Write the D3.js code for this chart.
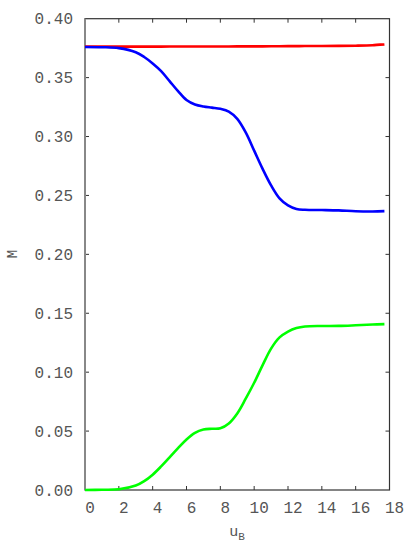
<!DOCTYPE html>
<html><head><meta charset="utf-8">
<script src="https://cdn.jsdelivr.net/npm/d3@7"></script>
<style>body{margin:0;background:#fff}svg{display:block}</style>
</head><body>
<svg id="c" width="416" height="553"></svg>
<script>
const uB    = [0, 1, 2, 3, 3.5, 4, 4.5, 5, 5.5, 6, 6.5, 7, 7.5, 8, 8.5, 9, 9.5, 10, 10.5, 11, 11.5, 12, 12.5, 13, 14, 15, 16, 17, 17.7];
const red   = [0.3763,0.3763,0.3763,0.3763,0.3763,0.3763,0.3763,0.3764,0.3764,0.3764,0.3764,0.3764,0.3764,0.3764,0.3764,0.3765,0.3765,0.3765,0.3765,0.3766,0.3766,0.3767,0.3767,0.3768,0.3768,0.3769,0.3771,0.3775,0.3782];
const blue  = [0.3760,0.3758,0.3750,0.3715,0.3675,0.3620,0.3555,0.3470,0.3385,0.3310,0.3272,0.3255,0.3245,0.3235,0.3212,0.3150,0.3035,0.2880,0.2725,0.2585,0.2475,0.2415,0.2385,0.2378,0.2376,0.2373,0.2366,0.2364,0.2367];
const green = [0.0000,0.0002,0.0006,0.0038,0.0075,0.0130,0.0200,0.0277,0.0355,0.0429,0.0485,0.0513,0.0520,0.0524,0.0565,0.0650,0.0775,0.0910,0.1060,0.1200,0.1295,0.1345,0.1375,0.1388,0.1392,0.1393,0.1398,0.1404,0.1408];
const xTicks = [0,2,4,6,8,10,12,14,16,18];
const yTicks = [0,0.05,0.10,0.15,0.20,0.25,0.30,0.35,0.40];
const seriesColors = ["#ff0000","#0000ff","#00ff00"];

const svg = d3.select("#c");
const L=85, R=389.5, T=18.7, B=490;
const x = d3.scaleLinear().domain([0,18]).range([L,R]);
const y = d3.scaleLinear().domain([0,0.40]).range([B,T]);
const font = "'Liberation Mono', 'DejaVu Sans Mono', monospace";

svg.append("rect").attr("x",L).attr("y",T).attr("width",R-L).attr("height",B-T)
  .attr("fill","none").attr("stroke","#333").attr("stroke-width",1.2);

const tl=4;
xTicks.slice(1,-1).forEach(t=>{
  svg.append("line").attr("x1",x(t)).attr("x2",x(t)).attr("y1",B).attr("y2",B-tl).attr("stroke","#333");
  svg.append("line").attr("x1",x(t)).attr("x2",x(t)).attr("y1",T).attr("y2",T+tl).attr("stroke","#333");
});
yTicks.slice(1,-1).forEach(t=>{
  svg.append("line").attr("x1",L).attr("x2",L+tl).attr("y1",y(t)).attr("y2",y(t)).attr("stroke","#333");
  svg.append("line").attr("x1",R).attr("x2",R-tl).attr("y1",y(t)).attr("y2",y(t)).attr("stroke","#333");
});

svg.selectAll(".xl").data(xTicks).enter().append("text")
  .attr("x",d=>x(d)+5).attr("y",513).attr("text-anchor","middle")
  .attr("font-family",font).attr("font-size",16).attr("fill","#555").text(d=>d);
svg.selectAll(".yl").data(yTicks).enter().append("text")
  .attr("x",73).attr("y",d=>y(d)+5.5).attr("text-anchor","end")
  .attr("font-family",font).attr("font-size",16).attr("fill","#555").text(d=>d3.format(".2f")(d));

svg.append("text").attr("transform","translate(17,254) rotate(-90)").attr("text-anchor","middle")
  .attr("font-family",font).attr("font-size",14).attr("fill","#555").text("M");
const xt = svg.append("text").attr("x",237).attr("y",536).attr("text-anchor","middle")
  .attr("font-family",font).attr("font-size",15).attr("fill","#555");
xt.append("tspan").text("u");
xt.append("tspan").attr("dy",4).attr("font-size",11).text("B");

svg.append("line").attr("x1",L).attr("x2",L).attr("y1",T).attr("y2",B).attr("stroke","#888").attr("stroke-width",2);

const line = d3.line().x((d,i)=>x(uB[i])).y(d=>y(d)).curve(d3.curveCatmullRom.alpha(0.5));
[red,blue,green].forEach((s,k)=>{
  svg.append("path").attr("d",line(s)).attr("fill","none").attr("stroke",seriesColors[k])
    .attr("stroke-width",2.6).attr("stroke-linejoin","round");
});
</script>
</body></html>
